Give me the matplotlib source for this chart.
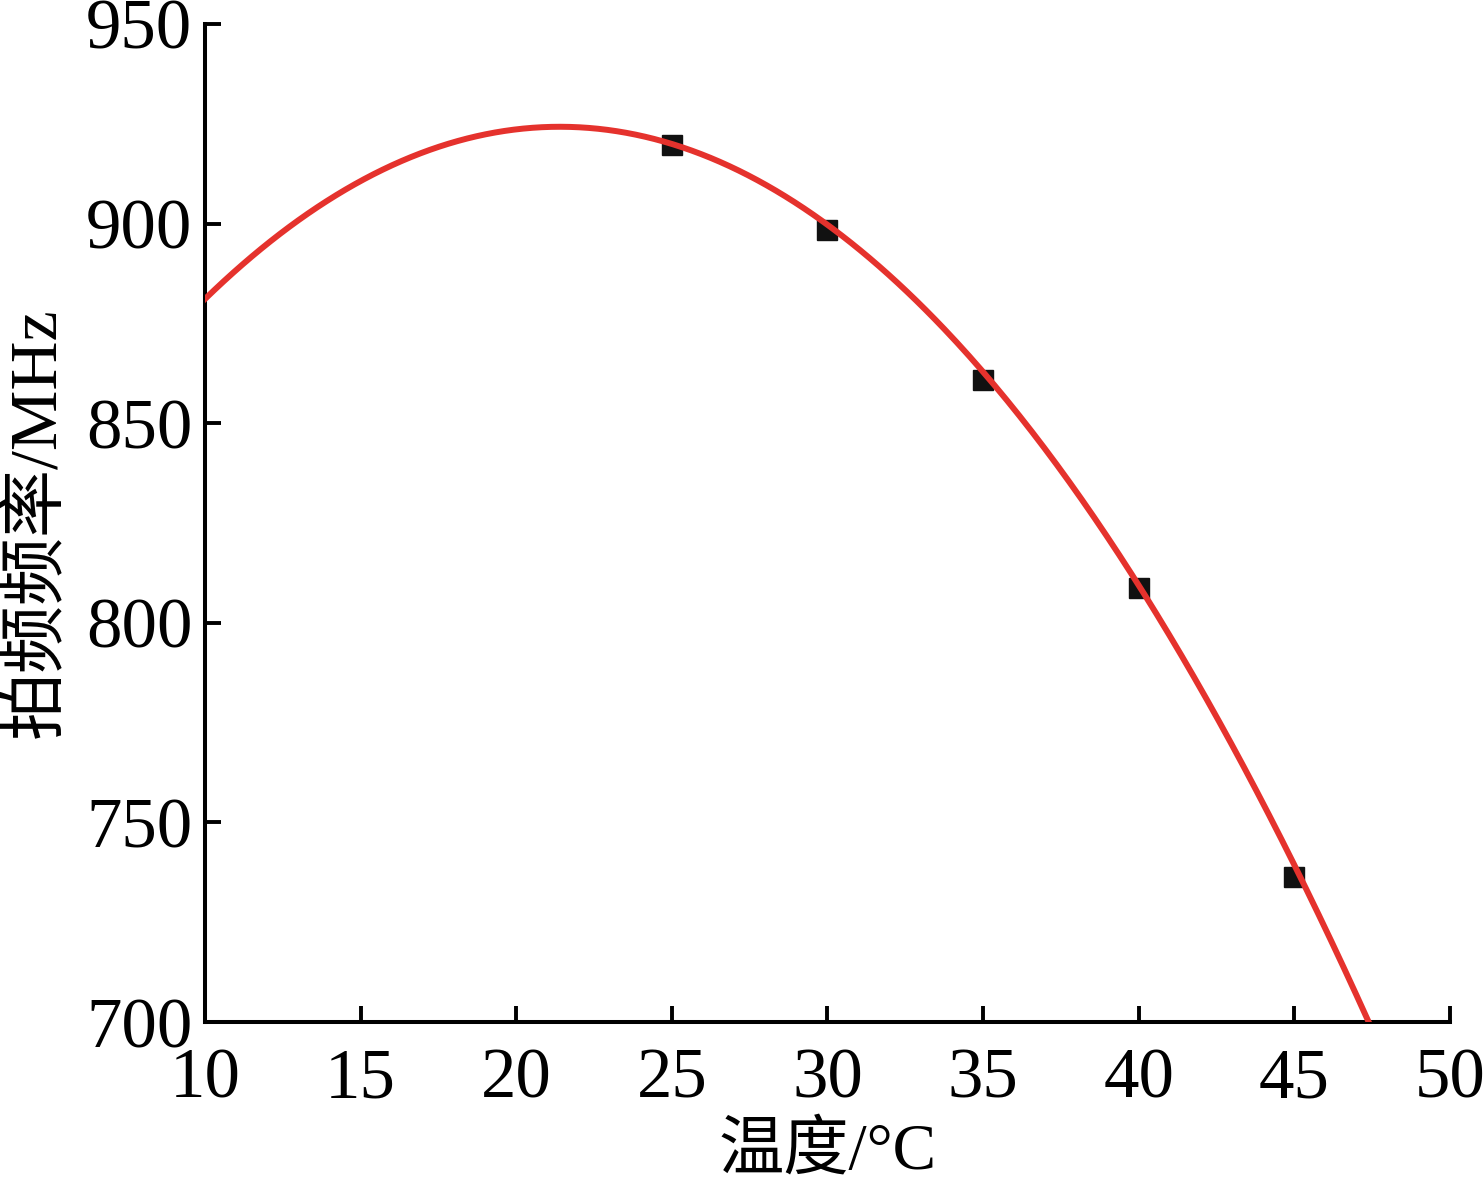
import numpy as np
import matplotlib
matplotlib.use("Agg")
import matplotlib.pyplot as plt

# measured points
temp = [25, 30, 35, 40, 45]
freq = [919.7, 898.4, 860.8, 808.7, 736.2]
# quadratic fit curve: c0 + c1*x + c2*x^2
fit_coef = [772.2, 14.21, -0.332]

xticks = [10, 15, 20, 25, 30, 35, 40, 45, 50]
yticks = [700, 750, 800, 850, 900, 950]

plt.rcParams['font.family'] = ['Liberation Serif', 'Noto Sans CJK SC']

fig = plt.figure(figsize=(14.83, 11.87), dpi=100)
ax = fig.add_axes([0.1382, 0.139, 0.8395, 0.8408])

xs = np.linspace(10, 50, 400)
ys = fit_coef[0] + fit_coef[1] * xs + fit_coef[2] * xs ** 2
ax.plot(xs, ys, color="#e5322d", lw=4.3, zorder=3)
ax.plot(temp, freq, "s", color="#111111", ms=14, zorder=2)

ax.set_xlim(10, 50)
ax.set_ylim(700, 950)
ax.set_xticks(xticks)
ax.set_yticks(yticks)
for s in ["top", "right"]:
    ax.spines[s].set_visible(False)
for s in ["left", "bottom"]:
    ax.spines[s].set_linewidth(2.9)
ax.tick_params(direction="in", length=11.5, width=2.8, labelsize=51)
ax.tick_params(axis="x", pad=18)
ax.tick_params(axis="y", pad=9)

ax.set_xlabel("温度/°C", fontsize=47, labelpad=7)
ax.set_ylabel("拍频频率/MHz", fontsize=49, labelpad=12)

fig.savefig("out.png", dpi=100)
